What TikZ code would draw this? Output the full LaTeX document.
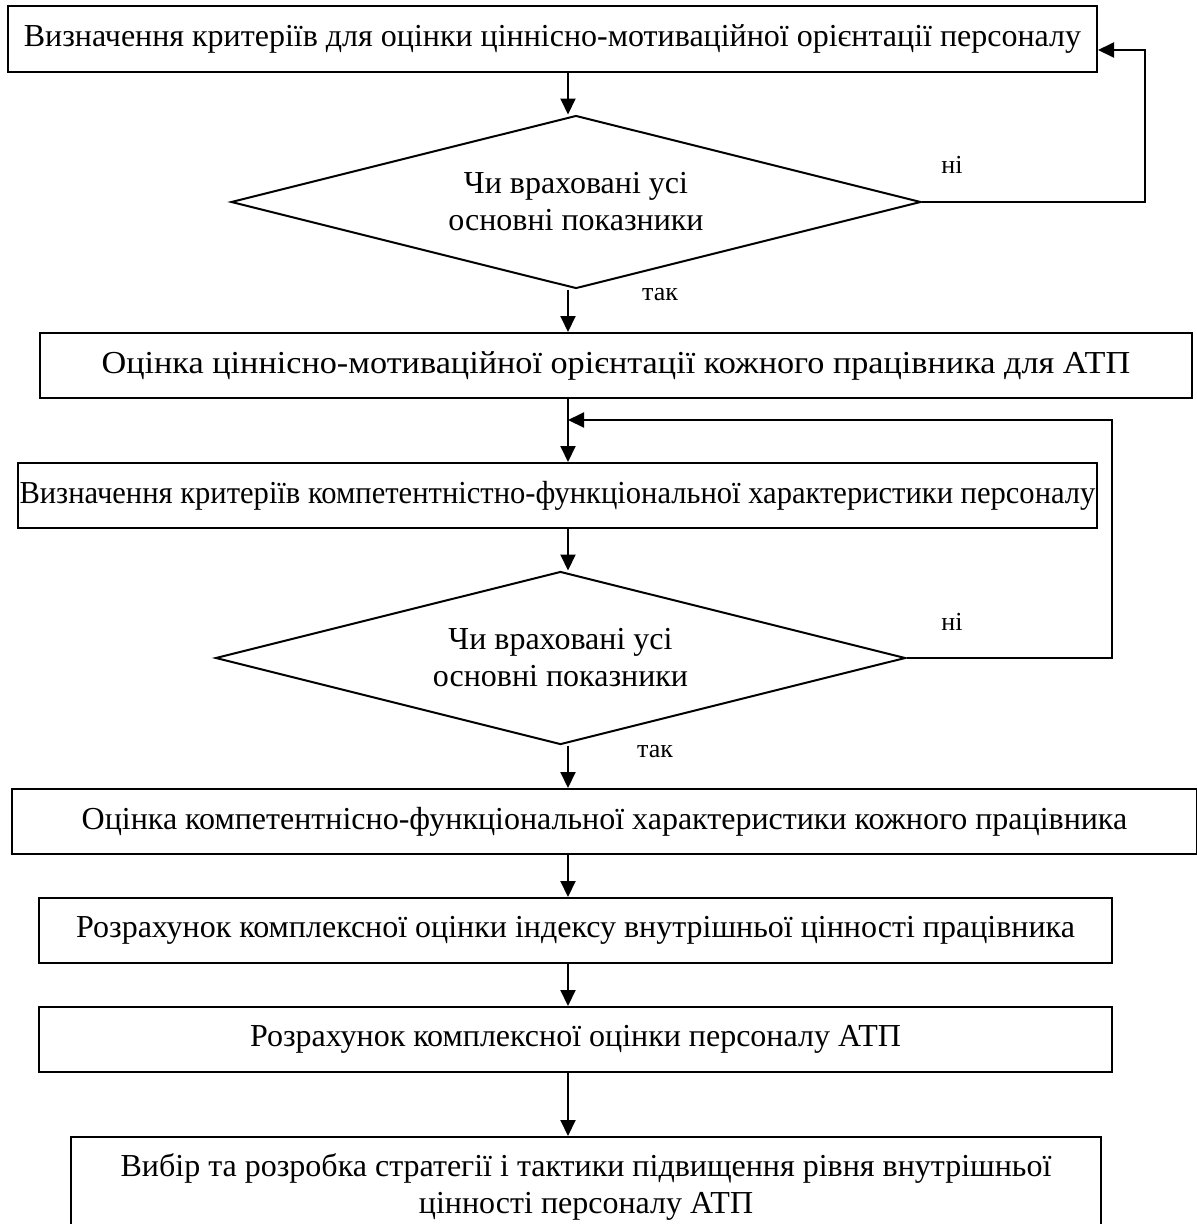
\documentclass[tikz,border=0pt]{standalone}
\usepackage{fontspec}
\usepackage{graphicx}
\setmainfont{Liberation Serif}
\usetikzlibrary{shapes.geometric,arrows.meta}
\tikzset{
  stepbox/.style={draw, line width=2pt, rectangle, inner sep=0pt, align=center,
    font=\fontsize{32}{37}\selectfont},
  decision/.style={draw, line width=2pt, diamond, aspect=4, inner sep=0pt, align=center,
    font=\fontsize{32}{37}\selectfont, minimum width=690pt, minimum height=173pt},
  arr/.style={line width=2pt, -{Triangle[length=16pt,width=15pt]}},
  lbl/.style={font=\fontsize{26}{30}\selectfont, inner sep=0pt}
}
\begin{document}
\begin{tikzpicture}[x=1pt,y=-1pt]
\useasboundingbox (0,0) rectangle (1197,1224);
\fill[white] (0,0) rectangle (1197,1224);
\coordinate (spine) at (568,0);

\node[stepbox, minimum width=1089pt, minimum height=66pt] (b1) at (552.5,39)
  {Визначення критеріїв для оцінки ціннісно-мотиваційної орієнтації персоналу};
\node[decision] (d1) at (576,202) {Чи враховані усі\\основні показники};
\node[stepbox, minimum width=1152pt, minimum height=65pt] (b2) at (616,365.5)
  {\scalebox{1.07}[1]{Оцінка ціннісно-мотиваційної орієнтації кожного працівника для АТП}};
\node[stepbox, minimum width=1079pt, minimum height=65pt] (b3) at (557.5,495.5)
  {\scalebox{0.955}[1]{Визначення критеріїв компетентністно-функціональної характеристики персоналу}};
\node[decision] (d2) at (560.5,658) {Чи враховані усі\\основні показники};
\node[stepbox, minimum width=1185pt, minimum height=65pt] (b4) at (604.5,821.5)
  {Оцінка компетентнісно-функціональної характеристики кожного працівника};
\node[stepbox, minimum width=1073pt, minimum height=65pt] (b5) at (575.5,930.5)
  {Розрахунок комплексної оцінки індексу внутрішньої цінності працівника};
\node[stepbox, minimum width=1073pt, minimum height=65pt] (b6) at (575.5,1039.5)
  {Розрахунок комплексної оцінки персоналу АТП};
\node[stepbox, minimum width=1030pt, minimum height=100pt] (b7) at (586,1187)
  {Вибір та розробка стратегії і тактики підвищення рівня внутрішньої\\цінності персоналу АТП};

\node[lbl] (n1) at (952,165) {ні};
\node[lbl] (t1) at (660,295) {так};
\node[lbl] (n2) at (952,622) {ні};
\node[lbl] (t2) at (655,752) {так};

\coordinate (r1) at (1145,0);
\coordinate (r2) at (1112,0);
\coordinate (top1) at (0,50);
\coordinate (top2) at (0,420);

\draw[arr] (spine |- b1.south) -- (spine |- d1.north);
\draw[arr] (spine |- d1.south) -- (spine |- b2.north);
\draw[arr] (d1.east) -- (r1 |- d1.east) -- (r1 |- top1) -- (b1.east |- top1);
\draw[arr] (spine |- b2.south) -- (spine |- b3.north);
\draw[arr] (d2.east) -- (r2 |- d2.east) -- (r2 |- top2) -- (spine |- top2);
\draw[arr] (spine |- b3.south) -- (spine |- d2.north);
\draw[arr] (spine |- d2.south) -- (spine |- b4.north);
\draw[arr] (spine |- b4.south) -- (spine |- b5.north);
\draw[arr] (spine |- b5.south) -- (spine |- b6.north);
\draw[arr] (spine |- b6.south) -- (spine |- b7.north);
\end{tikzpicture}
\end{document}
